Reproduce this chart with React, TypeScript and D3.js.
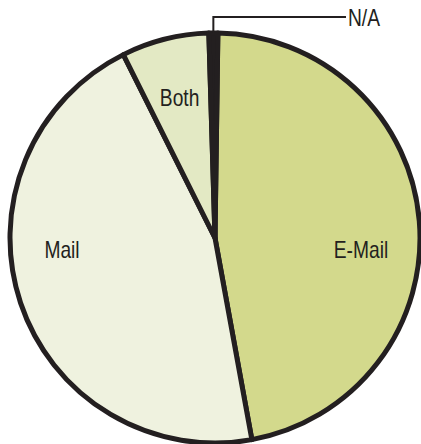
import React, { useEffect, useRef } from 'react';
import * as d3 from 'd3';

// slice shares, in percent, clockwise from the top
const categories = ['E-Mail', 'Mail', 'Both', 'N/A'];
const shares = [46.9, 45.5, 6.9, 0.7];
const fills = ['#d3d98c', '#eff2df', '#e3e9c4', '#231f20'];

const W = 421;
const H = 444;

const App = () => {
  const ref = useRef<SVGSVGElement>(null);

  useEffect(() => {
    document.body.style.margin = '0';
    const svg = d3.select(ref.current);
    svg.selectAll('*').remove();

    const cx = 215;
    const cy = 238;
    const r = 205;
    const ink = '#231f20';
    const font = '"Liberation Sans", Arial, sans-serif';
    const squeeze = 0.8; // narrow face, faked by horizontal scaling

    const start = (0.8 * Math.PI) / 180;
    const pie = d3
      .pie<number>()
      .sort(null)
      .value((d) => d)
      .startAngle(start)
      .endAngle(start + 2 * Math.PI);
    const arcs = pie(shares);
    const arc = d3.arc<d3.PieArcDatum<number>>().innerRadius(0).outerRadius(r);

    const g = svg.append('g').attr('transform', `translate(${cx},${cy})`);

    g.selectAll('path')
      .data(arcs)
      .enter()
      .append('path')
      .attr('d', arc)
      .attr('fill', (d, i) => fills[i])
      .attr('stroke', ink)
      .attr('stroke-width', 5)
      .attr('stroke-linejoin', 'round');

    // labels: the two big slices sit level, slightly below centre
    const labelPos = (d: d3.PieArcDatum<number>, i: number): [number, number] => {
      if (i === 0) return [146, 12];
      if (i === 1) return [-153, 12];
      const a = (d.startAngle + d.endAngle) / 2;
      return [145 * Math.sin(a), -145 * Math.cos(a)];
    };

    const addText = (x: number, y: number, s: string, anchor: string) => {
      g.append('text')
        .attr('transform', `translate(${x},${y}) scale(${squeeze},1)`)
        .attr('text-anchor', anchor)
        .attr('dominant-baseline', 'central')
        .attr('font-family', font)
        .attr('font-size', 24)
        .attr('fill', ink)
        .text(s);
    };

    arcs.forEach((d, i) => {
      if (i === 3) return;
      const [x, y] = labelPos(d, i);
      addText(x, y, categories[i], 'middle');
    });

    // N/A leader line
    const na = arcs[3];
    const a = (na.startAngle + na.endAngle) / 2;
    const lx = r * Math.sin(a);
    const ly = -r * Math.cos(a);
    const topY = 17 - cy;
    g.append('path')
      .attr('d', `M${lx},${ly}V${topY}H${346 - cx}`)
      .attr('fill', 'none')
      .attr('stroke', ink)
      .attr('stroke-width', 2);
    addText(348 - cx, topY + 1, categories[3], 'start');
  }, []);

  return <svg ref={ref} width={W} height={H} style={{ display: 'block' }}></svg>;
};

export default App;
